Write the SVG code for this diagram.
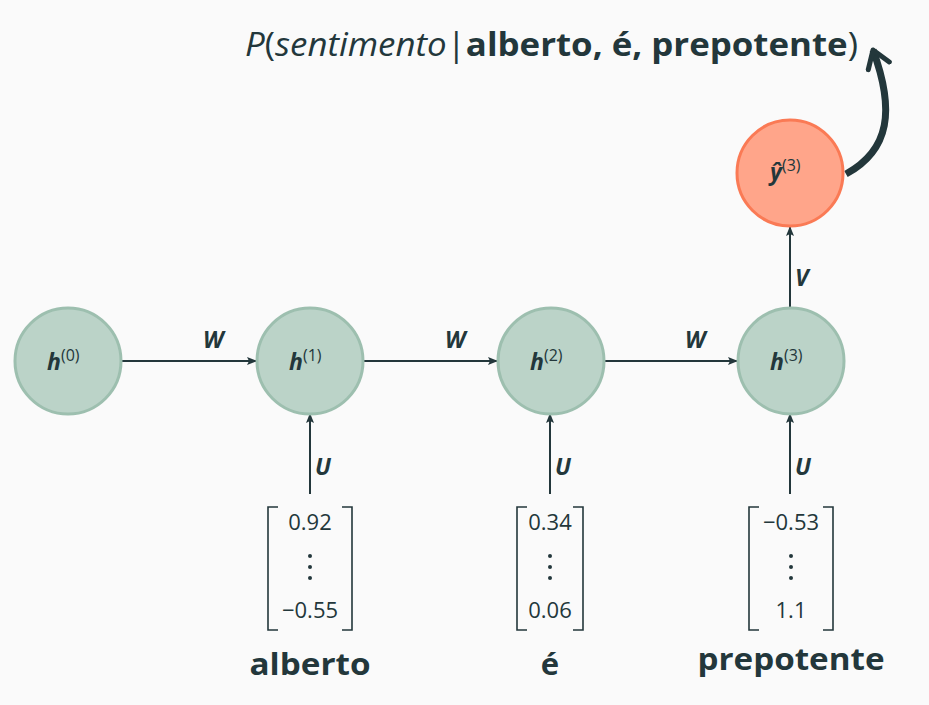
<svg xmlns="http://www.w3.org/2000/svg" width="929" height="705" viewBox="0 0 929 705">
<defs>
<style>
.h{fill:#bbd3c8;stroke:#9dbfaf;stroke-width:3}
.y{fill:#ffa58a;stroke:#fa7a55;stroke-width:3}
.t{font-family:"Open Sans","DejaVu Sans",sans-serif;fill:#23373b}
.lab{font-family:"Open Sans","DejaVu Sans",sans-serif;fill:#23373b;font-style:italic;font-weight:bold;font-size:23px}
.num{font-family:"Open Sans","DejaVu Sans",sans-serif;fill:#23373b;font-size:22px;text-anchor:middle}
.word{font-family:"Open Sans","DejaVu Sans",sans-serif;fill:#23373b;font-size:31px;font-weight:bold;text-anchor:middle}
.c{stroke:#23373b;stroke-width:2;fill:none}
.br{stroke:#23373b;stroke-width:1.6;fill:none}
.nl{font-size:23px;font-weight:bold;font-style:italic}
.sup{font-weight:normal;font-style:normal;font-size:16px}
</style>
<marker id="a" viewBox="0 0 10 8" refX="9" refY="4" markerWidth="10" markerHeight="8" orient="auto" markerUnits="userSpaceOnUse">
<path d="M0,0 L10,4 L0,8 L2,4 Z" fill="#23373b"/>
</marker>
<marker id="a2" viewBox="0 0 10 10" refX="7" refY="5" markerWidth="4" markerHeight="4" orient="auto">
<path d="M1,1 L7,5 L1,9" fill="none" stroke="#23373b" stroke-width="1.8" stroke-linecap="round" stroke-linejoin="round"/>
</marker>
</defs>
<rect width="929" height="705" fill="#fafafa"/>
<g id="connectors">
<line class="c" x1="122" y1="361" x2="256" y2="361" marker-end="url(#a)"/>
<line class="c" x1="364" y1="361" x2="497" y2="361" marker-end="url(#a)"/>
<line class="c" x1="605" y1="361" x2="737" y2="361" marker-end="url(#a)"/>
<line class="c" x1="310" y1="494" x2="310" y2="414" marker-end="url(#a)"/>
<line class="c" x1="550" y1="494" x2="550" y2="414" marker-end="url(#a)"/>
<line class="c" x1="790" y1="494" x2="790" y2="414" marker-end="url(#a)"/>
<line class="c" x1="790" y1="307" x2="790" y2="227" marker-end="url(#a)"/>
<path d="M846,174 C890,150 895,110 873,50" stroke="#23373b" stroke-width="7" fill="none" marker-end="url(#a2)"/>
<text class="lab" x="203" y="348">W</text>
<text class="lab" x="445" y="348">W</text>
<text class="lab" x="685" y="348">W</text>
<text class="lab" x="315" y="475">U</text>
<text class="lab" x="555" y="475">U</text>
<text class="lab" x="795" y="475">U</text>
<text class="lab" x="795" y="286">V</text>
</g>
<g id="title">
<text class="t" x="245" y="56" font-size="33" textLength="613" lengthAdjust="spacingAndGlyphs"><tspan font-style="italic">P</tspan>(<tspan font-style="italic">sentimento</tspan>|<tspan font-weight="bold">alberto, é, prepotente</tspan>)</text>
</g>
<g id="h0"><circle class="h" cx="68" cy="361" r="53"/><text class="t nl" x="47" y="370">h<tspan class="sup" dy="-9">(0)</tspan></text></g>
<g id="h1"><circle class="h" cx="310" cy="361" r="53"/><text class="t nl" x="289" y="370">h<tspan class="sup" dy="-9">(1)</tspan></text></g>
<g id="h2"><circle class="h" cx="551" cy="361" r="53"/><text class="t nl" x="530" y="370">h<tspan class="sup" dy="-9">(2)</tspan></text></g>
<g id="h3"><circle class="h" cx="791" cy="361" r="53"/><text class="t nl" x="770" y="370">h<tspan class="sup" dy="-9">(3)</tspan></text></g>
<g id="yhat"><circle class="y" cx="790" cy="173" r="53"/><text class="t nl" x="770" y="180">ŷ<tspan class="sup" dy="-9">(3)</tspan></text></g>
<g id="x1">
<path class="br" d="M278,507 H268 V630 H278 M342,507 H352 V630 H342"/>
<text class="num" x="310" y="530">0.92</text>
<circle cx="310" cy="556" r="2" fill="#23373b"/><circle cx="310" cy="567" r="2" fill="#23373b"/><circle cx="310" cy="578" r="2" fill="#23373b"/>
<text class="num" x="310" y="618">−0.55</text>
<text class="word" x="310" y="675" textLength="121" lengthAdjust="spacingAndGlyphs">alberto</text>
</g>
<g id="x2">
<path class="br" d="M527,507 H517 V630 H527 M573,507 H583 V630 H573"/>
<text class="num" x="550" y="530">0.34</text>
<circle cx="550" cy="556" r="2" fill="#23373b"/><circle cx="550" cy="567" r="2" fill="#23373b"/><circle cx="550" cy="578" r="2" fill="#23373b"/>
<text class="num" x="550" y="618">0.06</text>
<text class="word" x="550" y="675">é</text>
</g>
<g id="x3">
<path class="br" d="M759,507 H749 V630 H759 M823,507 H833 V630 H823"/>
<text class="num" x="791" y="530">−0.53</text>
<circle cx="791" cy="556" r="2" fill="#23373b"/><circle cx="791" cy="567" r="2" fill="#23373b"/><circle cx="791" cy="578" r="2" fill="#23373b"/>
<text class="num" x="791" y="618">1.1</text>
<text class="word" x="791" y="670" textLength="187" lengthAdjust="spacingAndGlyphs">prepotente</text>
</g>
</svg>
